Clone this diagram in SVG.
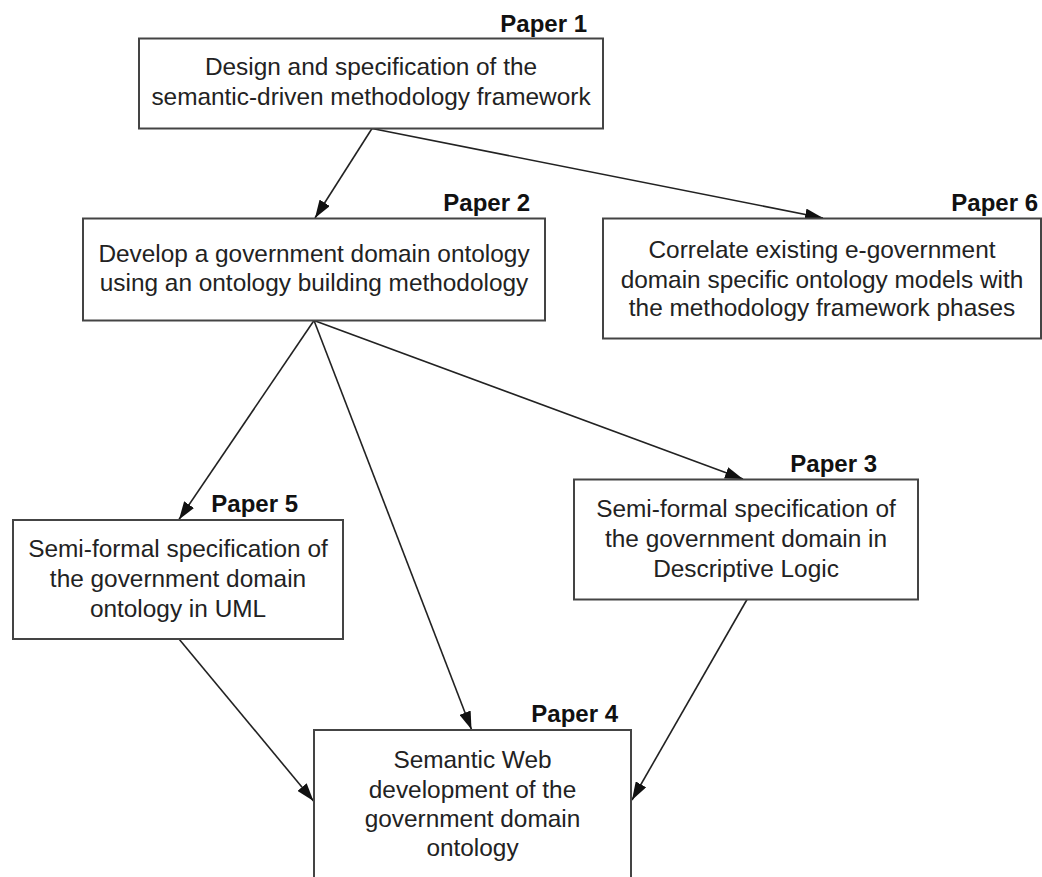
<svg xmlns="http://www.w3.org/2000/svg" width="1042" height="877" viewBox="0 0 1042 877">
<defs>
<style>
.box{fill:#fff;stroke:#444;stroke-width:2}
.t{font-family:"Liberation Sans",Arial,sans-serif;font-size:24.4px;fill:#222;text-anchor:middle}
.lbl{font-family:"Liberation Sans",Arial,sans-serif;font-size:24px;font-weight:bold;fill:#111;text-anchor:end}
.c{stroke:#222;stroke-width:1.6;fill:none;marker-end:url(#ah)}
</style>
<marker id="ah" markerUnits="userSpaceOnUse" markerWidth="18" markerHeight="12" refX="18" refY="6" orient="auto" viewBox="0 0 18 12">
<path d="M0,0 L18,6 L0,12 z" fill="#111"/>
</marker>
</defs>
<rect width="1042" height="877" fill="#fff"/>
<g id="connectors">
<line class="c" x1="372" y1="128.5" x2="315" y2="218"/>
<line class="c" x1="372" y1="128.5" x2="823" y2="218"/>
<line class="c" x1="314" y1="320.5" x2="179" y2="519.5"/>
<line class="c" x1="314" y1="320.5" x2="471.5" y2="729.5"/>
<line class="c" x1="314" y1="320.5" x2="743" y2="479"/>
<line class="c" x1="179" y1="639" x2="313.5" y2="801"/>
<line class="c" x1="747" y1="599.5" x2="632" y2="800"/>
</g>
<g id="paper1">
<rect class="box" x="139" y="38.5" width="464" height="90"/>
<text class="lbl" x="587" y="31.5">Paper 1</text>
<text class="t" x="371" y="75">Design and specification of the</text>
<text class="t" x="371" y="105">semantic-driven methodology framework</text>
</g>
<g id="paper2">
<rect class="box" x="83" y="218.5" width="462" height="102"/>
<text class="lbl" x="530" y="210.5">Paper 2</text>
<text class="t" x="314" y="261.5">Develop a government domain ontology</text>
<text class="t" x="314" y="291">using an ontology building methodology</text>
</g>
<g id="paper6">
<rect class="box" x="603" y="218.5" width="438" height="120"/>
<text class="lbl" x="1038" y="210.5">Paper 6</text>
<text class="t" x="822" y="258">Correlate existing e-government</text>
<text class="t" x="822" y="287.5">domain specific ontology models with</text>
<text class="t" x="822" y="316">the methodology framework phases</text>
</g>
<g id="paper5">
<rect class="box" x="13" y="520" width="330" height="119"/>
<text class="lbl" x="298" y="512">Paper 5</text>
<text class="t" x="178" y="557">Semi-formal specification of</text>
<text class="t" x="178" y="587">the government domain</text>
<text class="t" x="178" y="617">ontology in UML</text>
</g>
<g id="paper3">
<rect class="box" x="574" y="479.5" width="344" height="120"/>
<text class="lbl" x="877" y="472">Paper 3</text>
<text class="t" x="746" y="517">Semi-formal specification of</text>
<text class="t" x="746" y="546.5">the government domain in</text>
<text class="t" x="746" y="576.5">Descriptive Logic</text>
</g>
<g id="paper4">
<rect class="box" x="314" y="730" width="317" height="152"/>
<text class="lbl" x="618" y="722">Paper 4</text>
<text class="t" x="472.5" y="768">Semantic Web</text>
<text class="t" x="472.5" y="797.5">development of the</text>
<text class="t" x="472.5" y="827">government domain</text>
<text class="t" x="472.5" y="856">ontology</text>
</g>
</svg>
